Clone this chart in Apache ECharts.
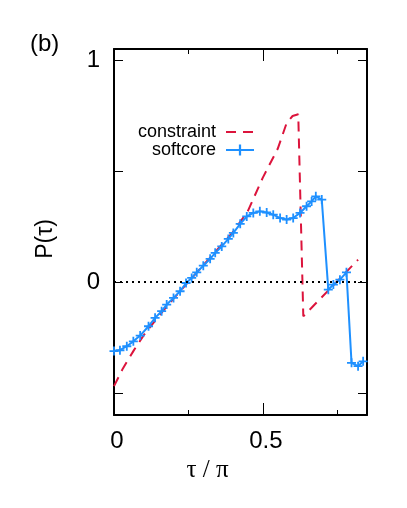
<!DOCTYPE html>
<html>
<head>
<meta charset="utf-8">
<script src="https://cdn.jsdelivr.net/npm/echarts@6/dist/echarts.min.js"></script>
<style>
html, body { margin: 0; padding: 0; background: #fff; }
#chart { width: 407px; height: 508px; }
</style>
</head>
<body>
<div id="chart"></div>
<script>
/**
 ******************************** 数据 ********************************
 */
// constraint 曲线 (红色虚线)
var constraintX = [0.000, 0.030, 0.065, 0.100, 0.150, 0.200, 0.250, 0.300, 0.350, 0.400,
                   0.450, 0.500, 0.550, 0.580, 0.600, 0.619, 0.636, 0.820];
var constraintY = [-0.470, -0.390, -0.312, -0.240, -0.155, -0.075, 0.000, 0.075, 0.150, 0.225,
                   0.320, 0.470, 0.600, 0.716, 0.748, 0.756, -0.155, 0.100];

// softcore 曲线 (蓝色 + 标记)
var softcoreX = [0.000, 0.020, 0.043, 0.065, 0.088, 0.116, 0.138, 0.160, 0.177, 0.200,
                 0.222, 0.242, 0.261, 0.278, 0.300, 0.323, 0.340, 0.362, 0.384, 0.401,
                 0.424, 0.446, 0.468, 0.490, 0.513, 0.535, 0.558, 0.580, 0.602, 0.625,
                 0.647, 0.664, 0.678, 0.698, 0.720, 0.737, 0.759, 0.781, 0.798, 0.820, 0.837];
var softcoreY = [-0.312, -0.308, -0.290, -0.268, -0.242, -0.200, -0.162, -0.132, -0.102, -0.072,
                 -0.042, -0.005, 0.018, 0.043, 0.073, 0.104, 0.131, 0.160, 0.194, 0.221,
                 0.262, 0.295, 0.311, 0.318, 0.313, 0.303, 0.288, 0.281, 0.288, 0.311,
                 0.341, 0.363, 0.386, 0.371, -0.035, -0.012, 0.010, 0.043, -0.365, -0.380, -0.358];

var xMajorTicks = [0, 0.5];
var xMinorTicks = [0.25, 0.75];
var xTickLabels = [0, 0.5];
var yTicks = [-0.5, 0, 0.5, 1];
var yTickLabels = [0, 1];

// ***********************************************************************

var FONT = '"Liberation Sans", Arial, sans-serif';
var PLUS = 'path://M4,0H6V4H10V6H6V10H4V6H0V4H4Z';

function pairs(xs, ys){
    return xs.map(function(x, i){ return [x, ys[i]]; });
}

// 生成坐标轴 (上下各两条，用于长短刻度)
function makeAxis(pos, ticks, len, labels, showLine, range){
    return {
        type: 'value',
        position: pos,
        min: range[0],
        max: range[1],
        splitLine: { show: false },
        axisLine: { show: showLine, onZero: false, lineStyle: { color: '#000', width: 2 } },
        axisTick: { show: true, inside: true, length: len, customValues: ticks,
                    lineStyle: { color: '#000', width: 1 } },
        axisLabel: labels ? {
            show: true, customValues: labels, margin: 14,
            color: '#000', fontSize: 24, fontFamily: FONT,
            formatter: function(v){ return String(v); }
        } : { show: false }
    };
}

var XR = [0, 0.85];
var YR = [-0.6, 1.05];

var chart = echarts.init(document.getElementById('chart'));

var xBottom = makeAxis('bottom', xMajorTicks, 12, xTickLabels, true, XR);
xBottom.axisLabel.padding = [0, 0, 0, 6];
xBottom.name = 'τ / π';
xBottom.nameLocation = 'middle';
xBottom.nameGap = 24;
xBottom.nameTextStyle = { fontSize: 25, fontFamily: '"Liberation Serif", serif', color: '#000',
                          padding: [0, 66, 0, 0] };

var yLeft = makeAxis('left', yTicks, 9, yTickLabels, true, YR);
yLeft.name = 'P(τ)';
yLeft.nameLocation = 'middle';
yLeft.nameGap = 57;
yLeft.nameTextStyle = { fontSize: 23, fontFamily: FONT, color: '#000', padding: [0, 14, 0, 0] };

var option = {
    animation: false,
    backgroundColor: '#fff',
    grid: { left: 114, right: 40, top: 49, bottom: 93, containLabel: false },
    xAxis: [
        xBottom,
        makeAxis('bottom', xMinorTicks, 5, null, false, XR),
        makeAxis('top', xMajorTicks, 12, null, true, XR),
        makeAxis('top', xMinorTicks, 5, null, false, XR)
    ],
    yAxis: [
        yLeft,
        makeAxis('right', yTicks, 9, null, true, YR)
    ],
    legend: {
        data: [{ name: 'constraint', itemStyle: { opacity: 0 } }, 'softcore'],
        orient: 'vertical',
        align: 'right',
        right: 152,
        top: 123,
        padding: 0,
        itemWidth: 28,
        itemHeight: 14,
        itemGap: 0,
        textStyle: { fontSize: 18, fontFamily: FONT, color: '#000', padding: [0, 5, 0, 0] }
    },
    graphic: [{
        type: 'text',
        left: 30,
        top: 32,
        style: { text: '(b)', fontSize: 24, fontFamily: FONT, fill: '#000' }
    }],
    series: [
        {   // y = 0 点线
            name: 'zero',
            type: 'line',
            data: [],
            z: 1,
            silent: true,
            markLine: {
                silent: true,
                symbol: 'none',
                label: { show: false },
                lineStyle: { color: '#000', type: [2, 4], width: 2 },
                data: [{ yAxis: 0 }]
            }
        },
        {
            name: 'constraint',
            type: 'line',
            data: pairs(constraintX, constraintY),
            showSymbol: false,
            symbol: 'none',
            z: 2,
            lineStyle: { color: '#dc143c', width: 2, type: [10, 7] },
            itemStyle: { color: '#dc143c' }
        },
        {
            name: 'softcore',
            type: 'line',
            data: pairs(softcoreX, softcoreY),
            symbol: PLUS,
            symbolSize: 9,
            z: 3,
            lineStyle: { color: '#1e90ff', width: 2 },
            itemStyle: { color: '#1e90ff' }
        }
    ]
};

chart.setOption(option);
</script>
</body>
</html>
